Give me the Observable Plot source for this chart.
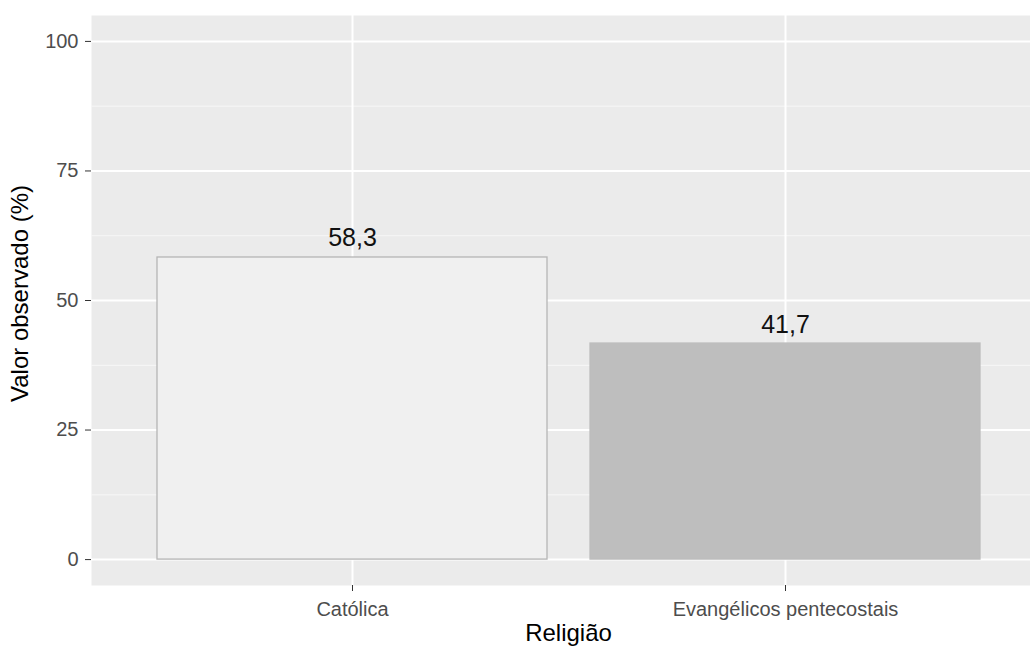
<!DOCTYPE html>
<html>
<head>
<meta charset="utf-8">
<script src="https://cdn.jsdelivr.net/npm/d3@7"></script>
<script src="https://cdn.jsdelivr.net/npm/@observablehq/plot@0.6"></script>
<style>
  html, body { margin: 0; padding: 0; background: #fff; overflow: hidden; }
  #chart svg { display: block; }
</style>
</head>
<body>
<div id="chart"></div>
<script>
const categories = ["Católica", "Evangélicos pentecostais"];
const values = [58.3, 41.7];
const majorTicks = [0, 25, 50, 75, 100];
const minorTicks = [12.5, 37.5, 62.5, 87.5];
const xTitle = "Religião";
const yTitle = "Valor observado (%)";

const data = categories.map((c, i) => ({religion: c, value: values[i]}));
const font = "'Liberation Sans', Arial, sans-serif";

const chart = Plot.plot({
  width: 1030,
  height: 648,
  marginLeft: 91,
  marginRight: -15,
  marginTop: 15,
  marginBottom: 63,
  style: {fontFamily: font, background: "#fff", overflow: "hidden"},
  x: {type: "band", domain: categories, paddingInner: 0.1, paddingOuter: 0.15, label: null},
  y: {domain: [-5, 105], label: null},
  color: {domain: categories, range: ["#F0F0F0", "#BEBEBE"]},
  marks: [
    Plot.frame({fill: "#EBEBEB", stroke: null}),
    Plot.ruleY(minorTicks, {stroke: "#F7F7F7", strokeWidth: 1}),
    Plot.ruleY(majorTicks, {stroke: "#FFFFFF", strokeWidth: 2}),
    Plot.ruleX(categories, {x: d => d, stroke: "#FFFFFF", strokeWidth: 2}),
    Plot.barY(data, {x: "religion", y1: 0, y2: "value", fill: "religion",
      stroke: d => d.religion === categories[0] ? "#B5B5B5" : "#BEBEBE", strokeWidth: 1.3}),
    Plot.text(data, {x: "religion", y: "value", text: d => String(d.value).replace(".", ","),
      dy: -19, fontSize: 25, fill: "#111", fontFamily: font}),
    Plot.axisY(majorTicks, {tickSize: 6, tickPadding: 7, fontSize: 20, fill: "#4D4D4D", stroke: "#333", label: null}),
    Plot.axisX({tickSize: 6, tickPadding: 10, fontSize: 20, fill: "#4D4D4D", stroke: "#333", label: null}),
    Plot.text([yTitle], {frameAnchor: "left", text: d => d, rotate: -90, textAnchor: "middle", lineAnchor: "middle",
      dx: -71, dy: -7, fontSize: 24, fill: "#000"}),
    Plot.text([xTitle], {frameAnchor: "bottom", text: d => d, textAnchor: "middle", lineAnchor: "middle",
      dy: 48, fontSize: 24, fill: "#000"})
  ]
});
document.getElementById("chart").appendChild(chart);
</script>
</body>
</html>
